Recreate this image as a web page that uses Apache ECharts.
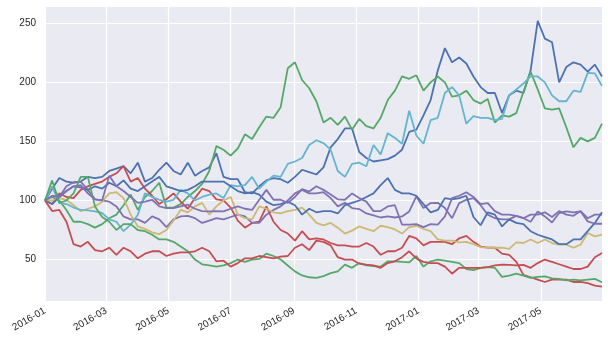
<!DOCTYPE html>
<html>
<head>
<meta charset="utf-8">
<script src="https://cdn.jsdelivr.net/npm/echarts@6/dist/echarts.min.js"></script>
<style>
html,body{margin:0;padding:0;background:#fff;}
#chart{width:608px;height:341px;}
</style>
</head>
<body>
<div id="chart"></div>
<script>
// ---- data (weekly, every Friday from 2016-01-01 to 2017-06-30) ----
const startDate = '2016-01-01';
const endDate = '2017-06-30';
const tickLabels = ['2016-01','2016-03','2016-05','2016-07','2016-09','2016-11','2017-01','2017-03','2017-05'];
const yTicks = [50, 100, 150, 200, 250];

const blueA = [100,110,119,116,115,116,120,119,120,125,
 127,129,123,132,116,119,126,132,125,122,
 132,121,125,128,140,120,118,118,107,106,
 112,117,119,118,115,120,126,124,122,128,
 145,152,161,161,141,136,133,134,135,138,
 143,158,160,172,185,210,229,217,221,216,
 205,196,191,191,174,189,193,191,210,252,
 237,234,200,213,217,215,209,215,205];
const greenUp = [100,103,100,92,82,82,80,77,80,85,
 88,96,105,92,103,108,115,94,94,97,
 103,108,114,125,146,143,138,144,156,152,
 162,171,170,179,212,217,202,195,184,166,
 170,164,171,160,169,163,161,170,185,193,
 205,203,206,193,200,205,200,188,189,193,
 185,182,186,166,172,171,174,192,209,194,
 178,177,178,162,145,153,150,153,165];
const redHigh = [100,97,106,103,102,109,112,114,116,120,
 123,129,116,119,110,104,97,101,106,99,
 93,102,110,108,101,100,94,83,77,81,
 82,95,82,75,72,66,74,67,68,67,
 64,62,62,61,61,64,61,54,57,57,
 60,70,68,62,65,65,65,63,68,70,
 65,61,60,60,55,54,48,37,35,33,
 31,33,33,33,31,31,30,28,27];
const purpleA = [100,111,103,112,115.5,116,109,101,100,99,
 95,86.5,84,84,81,86.5,84,77.5,84,86.5,
 87,85,81,83,85,84,86,88,86.5,81,
 81,88,92,95,100,106,109,106,106,107,
 102,95,98,93.6,92.7,89,87.4,85.6,86.5,85.6,
 86.5,90.7,103.4,93.6,97.8,98,93.6,85,97.8,100.6,
 102,96,88,85,84,84,87,85,88,88,
 90,86,91,88,87,91,85,88,88];
const yellow = [100,100,102,100.6,96,91,93,95,99,106,
 107,102,88,78,76,73,71.5,75,83,92,
 90,95,98,88,95,100,103,88,85,84,
 95,93,90,89,91,92,94,88,81,79,
 81,77,72,74.5,78,76,74,78.6,77.5,75.5,
 72,77.5,78.6,76,74,67,66,66,64.5,65,
 63,60.5,60,60,60,59,64.5,64,67,64,
 67,64,62.6,62.6,60,62.6,72.5,69.6,71];
const cyan = [100,112,98,97,94,92,91.6,90.7,89.4,84,
 82,74,79.5,88,106,103,100.6,99,100.6,109,
 106,100,103,105,106,102,113,112,113,120,
 110,116,121,120,131,133,136,147,151,148.5,
 143,125,120,131,132,129,147,139,157,153,
 148,176,155,148,168,170,191,196,189,165,
 171.5,170,170,168,169,189,194,199,205,205,
 200,189,184,184,193,192,208,207.6,197];
const blueB = [100,97,103,108,112,111,109,112,110,115,
 112,117,110,108,112,116,120,112,110,108,
 109,112,116,116,116,116,112,108,106,107,
 105,99,96,97,99,96,88,93,90,91,
 91,89,96,98,100,103,106,113,119,109,
 106,106,104,97,90,92,102,101,102,104,
 86,79,90,88,78,84,81,80,74,71,
 69,67,63,63,67,67,74,81,90];
const greenDown = [100,117,98,100,106,120,120,95,86,82,
 75,80,80,75,74,71,67,67,65,61,
 57,50,46,45,44,45,47,50,48,50,
 50.5,55,53,50,45,40,36.5,35,34.5,36,
 38.5,40,45.7,43,47,45,44.5,44,48.5,48.5,
 48,47.6,53,44,48.5,50,49,48,47,42,
 41,43,43.5,43,35.3,36.4,38,36.4,34.5,35.3,
 35.8,34,33.6,32.4,33,32.4,33,33.6,30.8];
const redLow = [100,91,92,82,63,61,65,58,57,60,
 54,60,57,51,55,57,57,53,55,56,
 56,57,60,57,48.5,49,44,47,51,51,
 53,52,51,52.5,53,60,63,58,66,65,
 62,52,50,50,46.5,45.7,45,43,47,48.5,
 52,57,51,48,47,47,44,38,43,43,
 43,43,43.5,45,45.7,45.5,45,45.5,43,47,
 50,48,46,44,42,42,44,52,55.5];
const purpleB = [100,104,103,108,112,113,106,101,100,121,
 112,108,103,98,99,100.6,95,93.6,93.6,95,
 96.4,93,91,90.7,91,90.7,93,95,93,92,
 100.6,109,100.6,100.6,98,103,109.6,107.6,112,109,
 105,101,100.6,106,102,99,91,91,95,96,
 79.5,79.5,80,77.5,80,79.5,86.5,102,104,107,
 103,97,97.8,91,88,88,87,85,82,90.7,
 86.5,81.4,89.4,90.7,90,90.7,82.3,80.3,80.3];

const seriesList = [
  {name:'s1', color:'#4C72B0', values: blueA},
  {name:'s2', color:'#55A868', values: greenUp},
  {name:'s3', color:'#C44E52', values: redHigh},
  {name:'s4', color:'#8172B2', values: purpleA},
  {name:'s5', color:'#CCB974', values: yellow},
  {name:'s6', color:'#64B5CD', values: cyan},
  {name:'s7', color:'#4C72B0', values: blueB},
  {name:'s8', color:'#55A868', values: greenDown},
  {name:'s9', color:'#C44E52', values: redLow},
  {name:'s10', color:'#8172B2', values: purpleB}
];

// ---- calendar helpers ----
function fmt(d){
  const y = d.getUTCFullYear();
  const m = String(d.getUTCMonth()+1).padStart(2,'0');
  const dd = String(d.getUTCDate()).padStart(2,'0');
  return y + '-' + m + '-' + dd;
}
const DAY = 86400000;
const t0 = Date.parse(startDate + 'T00:00:00Z');
const t1 = Date.parse(endDate + 'T00:00:00Z');
const days = [];
for (let t = t0; t <= t1; t += DAY) days.push(fmt(new Date(t)));
const weekDates = blueA.map((_, i) => fmt(new Date(t0 + i * 7 * DAY)));

const tickSet = new Set(tickLabels.map(s => s + '-01'));
const isTick = (idx, val) => tickSet.has(val);

const chart = echarts.init(document.getElementById('chart'), null, {renderer:'canvas'});
const textStyle = {fontFamily:'Liberation Sans, Arial, sans-serif', fontSize:10, color:'#262626'};

chart.setOption({
  animation:false,
  backgroundColor:'#ffffff',
  grid:{left:45, right:6, top:7, bottom:40, show:true, backgroundColor:'#EAEAF2', borderWidth:0},
  xAxis:{
    type:'category',
    data: days,
    boundaryGap:false,
    axisLine:{show:false},
    axisTick:{show:false},
    axisLabel:Object.assign({
      interval:isTick,
      rotate:30,
      margin:9,
      formatter:(v)=>v.slice(0,7)
    }, textStyle),
    splitLine:{show:true, interval:isTick, lineStyle:{color:'#ffffff', width:1.2}}
  },
  yAxis:{
    type:'value',
    min:14.9,
    max:263.8,
    splitNumber:5,
    minInterval:50,
    maxInterval:50,
    axisLine:{show:false},
    axisTick:{show:false},
    axisLabel:Object.assign({
      margin:9,
      showMinLabel:false,
      showMaxLabel:false,
      formatter:(v)=> yTicks.includes(Math.round(v*1000)/1000) ? String(v) : ''
    }, textStyle),
    splitLine:{show:true, showMinLine:false, showMaxLine:false, lineStyle:{color:'#ffffff', width:1.2}}
  },
  series: seriesList.map(s => ({
    name:s.name,
    type:'line',
    symbol:'none',
    showSymbol:false,
    smooth:false,
    lineStyle:{color:s.color, width:1.8},
    itemStyle:{color:s.color},
    data: weekDates.map((d,i)=>[d, s.values[i]])
  }))
});
</script>
</body>
</html>
